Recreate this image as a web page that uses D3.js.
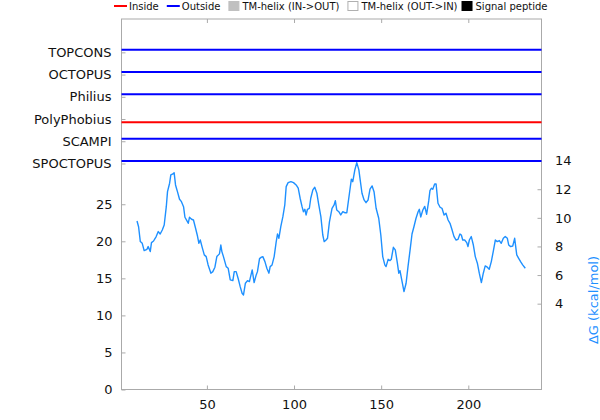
<!DOCTYPE html>
<html>
<head>
<meta charset="utf-8">
<script src="https://cdn.jsdelivr.net/npm/d3@7"></script>
<style>
  html, body { margin: 0; padding: 0; background: #fff; }
  svg { display: block; font-family: "DejaVu Sans", sans-serif; }
</style>
</head>
<body>
<svg id="chart" width="600" height="420"></svg>
<script>
// ---------------- data ----------------
const seqLength = 242;
const xTicks = [50, 100, 150, 200];
const leftTicks = [0, 5, 10, 15, 20, 25];
const rightTicks = [4, 6, 8, 10, 12, 14];

const predictors = ["TOPCONS", "OCTOPUS", "Philius", "PolyPhobius", "SCAMPI", "SPOCTOPUS"];
const predictorLevel = [45.5, 42.5, 39.5, 36.5, 33.5, 30.5];
const predictorSide = ["out", "out", "out", "in", "out", "out"];

const legendLabels = ["Inside", "Outside", "TM-helix (IN->OUT)", "TM-helix (OUT->IN)", "Signal peptide"];

const dgPos = [9.9,10.8,11.8,12.9,14.0,15.6,16.3,17.5,18.2,19.4,
  20.9,22.1,23.2,24.4,25.5,26.7,27.4,28.6,29.3,30.5,
  31.2,32.0,33.1,34.3,35.4,36.6,37.4,38.5,39.3,40.0,
  41.2,42.3,43.5,44.6,45.4,46.2,47.3,48.5,49.6,50.7,
  52.3,53.4,54.6,55.7,57.2,58.0,58.6,59.5,61.1,62.2,
  63.4,64.9,65.7,66.8,67.9,69.1,70.2,71.0,72.1,73.3,
  74.4,76.0,77.1,78.3,79.0,80.2,81.3,82.1,83.3,84.4,
  85.6,86.3,87.4,88.6,89.7,90.5,91.3,92.4,93.6,94.7,
  95.5,96.6,98.2,99.7,101.2,102.4,103.5,104.6,105.4,106.2,
  106.9,107.7,108.8,109.6,110.8,111.9,113.1,114.2,115.4,116.5,
  117.3,118.4,119.2,120.3,121.8,123.0,123.7,124.5,125.7,126.8,
  128.0,129.1,130.3,131.8,132.9,133.7,134.9,136.0,137.2,137.9,
  139.0,140.2,141.3,142.5,143.6,144.8,145.9,147.1,148.6,149.8,
  150.9,152.1,152.8,154.0,155.1,155.8,157.0,158.1,159.3,160.1,
  160.8,162.0,163.1,164.3,165.4,166.6,167.7,168.8,170.0,171.2,
  171.9,172.7,173.9,175.0,176.1,177.3,178.0,178.8,179.6,180.7,
  181.5,182.6,183.8,184.9,186.1,187.2,188.4,189.5,190.7,191.8,
  193.0,194.1,195.2,196.0,196.8,197.9,199.1,199.8,200.6,201.7,
  202.9,204.0,205.2,206.3,207.5,208.6,209.7,210.9,212.0,213.2,
  214.3,215.5,216.6,217.8,218.9,220.1,221.2,222.4,223.2,224.3,
  225.5,226.6,227.8,228.9,230.0,231.2,232.7];

const dgValue = [9.78,9.38,8.34,8.22,7.71,7.80,7.99,7.64,8.27,8.38,
  8.69,9.04,8.87,9.15,9.50,10.78,11.83,12.42,13.0,13.07,
  13.16,12.30,11.83,11.30,11.13,10.78,10.04,9.80,9.62,10.04,
  9.90,9.85,9.27,8.73,8.22,8.45,7.94,7.41,7.29,6.71,
  6.13,6.24,6.55,7.29,7.48,8.10,7.64,7.29,6.59,6.48,
  5.66,5.61,6.24,6.24,5.78,5.19,4.73,4.61,5.43,5.61,
  5.54,6.36,5.47,6.01,6.24,7.15,7.25,7.29,6.94,6.48,
  6.13,6.59,6.71,7.29,8.27,8.87,8.57,9.38,10.08,10.90,
  12.18,12.46,12.53,12.46,12.30,12.07,11.37,10.78,10.43,10.60,
  10.20,10.60,10.67,11.37,11.95,12.14,11.72,10.90,10.08,8.80,
  8.34,8.45,8.57,9.70,10.67,10.90,11.20,10.55,10.43,10.20,
  10.43,10.36,10.36,11.72,12.70,12.53,13.35,13.86,13.35,12.70,
  11.72,11.25,11.06,11.25,12.00,12.23,11.83,10.67,9.97,8.80,
  7.29,6.71,6.59,7.10,7.01,7.10,7.94,7.76,6.83,6.13,
  6.31,5.54,4.84,5.43,6.59,7.76,8.87,9.38,9.97,10.43,
  10.60,10.06,10.55,10.80,10.25,11.2,11.9,12.07,12.00,12.37,
  12.37,11.02,10.74,10.67,10.20,10.32,9.85,9.62,9.15,8.69,
  8.45,8.50,8.87,8.80,8.45,8.45,8.27,7.99,8.45,8.69,
  8.10,7.29,6.83,6.13,5.47,6.13,6.64,6.55,6.41,6.94,
  7.64,8.45,8.34,8.41,8.22,8.57,8.69,8.57,8.10,7.99,
  8.03,8.57,7.41,7.17,6.94,6.71,6.48];

// ---------------- layout ----------------
const svg = d3.select("#chart");
const L = 121.5, R = 541.5, T = 19, B = 389.5;
const frameColor = "#aaaaaa";
const fontSize = 13;

const x = d3.scaleLinear().domain([1, seqLength]).range([L, R]);
const yL = d3.scaleLinear().domain([0, 50]).range([B, T]);
const yR = d3.scaleLinear().domain([-2, 23.9]).range([B, T]);

// frame
svg.append("rect").attr("x", L).attr("y", T).attr("width", R - L).attr("height", B - T)
  .attr("fill", "none").attr("stroke", frameColor).attr("stroke-width", 1);

function styleAxis(g) {
  g.select(".domain").remove();
  g.selectAll(".tick line").attr("stroke", frameColor);
  g.selectAll(".tick text").attr("fill", "#111").style("font-size", fontSize + "px")
    .style("font-family", "DejaVu Sans, sans-serif");
}

// bottom x axis
svg.append("g").attr("transform", `translate(0,${B})`)
  .call(d3.axisBottom(x).tickValues(xTicks).tickSizeInner(-4).tickSizeOuter(0).tickPadding(10))
  .call(styleAxis);
// top mirror ticks
svg.append("g").attr("transform", `translate(0,${T})`)
  .call(d3.axisTop(x).tickValues(xTicks).tickSizeInner(-4).tickSizeOuter(0).tickFormat(""))
  .call(styleAxis);

// left numeric axis
svg.append("g").attr("transform", `translate(${L},0)`)
  .call(d3.axisLeft(yL).tickValues(leftTicks).tickSizeInner(-4).tickSizeOuter(0).tickPadding(9))
  .call(styleAxis);

// left predictor label ticks
const predAxis = d3.axisLeft(yL).tickValues(predictorLevel).tickSizeInner(-4).tickSizeOuter(0)
  .tickPadding(10).tickFormat((d, i) => predictors[i]);
svg.append("g").attr("transform", `translate(${L},0)`).call(predAxis).call(styleAxis);

// right ΔG axis
svg.append("g").attr("transform", `translate(${R},0)`)
  .call(d3.axisRight(yR).tickValues(rightTicks).tickSizeInner(-4).tickSizeOuter(0).tickPadding(13.5))
  .call(styleAxis);

// right axis title
svg.append("text")
  .attr("transform", `translate(593,300) rotate(-90)`)
  .attr("text-anchor", "middle").attr("dominant-baseline", "central")
  .attr("fill", "#1e90ff").style("font-size", fontSize + "px")
  .text("ΔG (kcal/mol)");

// predictor topology lines
const sideOffset = { out: 0.35, in: -0.45 };
const sideColor = { out: "#0000ff", in: "#ff0000" };
svg.append("g").selectAll("line").data(predictors).join("line")
  .attr("x1", x(1)).attr("x2", x(seqLength))
  .attr("y1", (d, i) => yL(predictorLevel[i] + sideOffset[predictorSide[i]]))
  .attr("y2", (d, i) => yL(predictorLevel[i] + sideOffset[predictorSide[i]]))
  .attr("stroke", (d, i) => sideColor[predictorSide[i]])
  .attr("stroke-width", 2);

// ΔG curve
const pts = dgPos.map((p, i) => [p, dgValue[i]]);
svg.append("path").datum(pts)
  .attr("fill", "none").attr("stroke", "#1e90ff").attr("stroke-width", 1.4)
  .attr("stroke-linejoin", "round")
  .attr("d", d3.line().x(d => x(d[0])).y(d => yR(d[1])));

// legend
const leg = svg.append("g").style("font-size", "10px");
let cx = 114;
const ly = 6;
const symbols = [
  { type: "line", color: "#ff0000" },
  { type: "line", color: "#0000ff" },
  { type: "box", fill: "#c0c0c0", stroke: "#c0c0c0" },
  { type: "box", fill: "#ffffff", stroke: "#b0b0b0" },
  { type: "box", fill: "#000000", stroke: "#000000" }
];
legendLabels.forEach((lab, i) => {
  const s = symbols[i];
  if (s.type === "line") {
    leg.append("line").attr("x1", cx).attr("x2", cx + 13).attr("y1", ly).attr("y2", ly)
      .attr("stroke", s.color).attr("stroke-width", 2);
    cx += 15;
  } else {
    leg.append("rect").attr("x", cx + 0.5).attr("y", 1.5).attr("width", 10).attr("height", 9)
      .attr("fill", s.fill).attr("stroke", s.stroke);
    cx += 14;
  }
  const t = leg.append("text").attr("x", cx).attr("y", ly).attr("dominant-baseline", "central")
    .attr("fill", "#111").text(lab);
  cx += t.node().getComputedTextLength() + (i === 3 ? 4 : 8);
});
</script>
</body>
</html>
